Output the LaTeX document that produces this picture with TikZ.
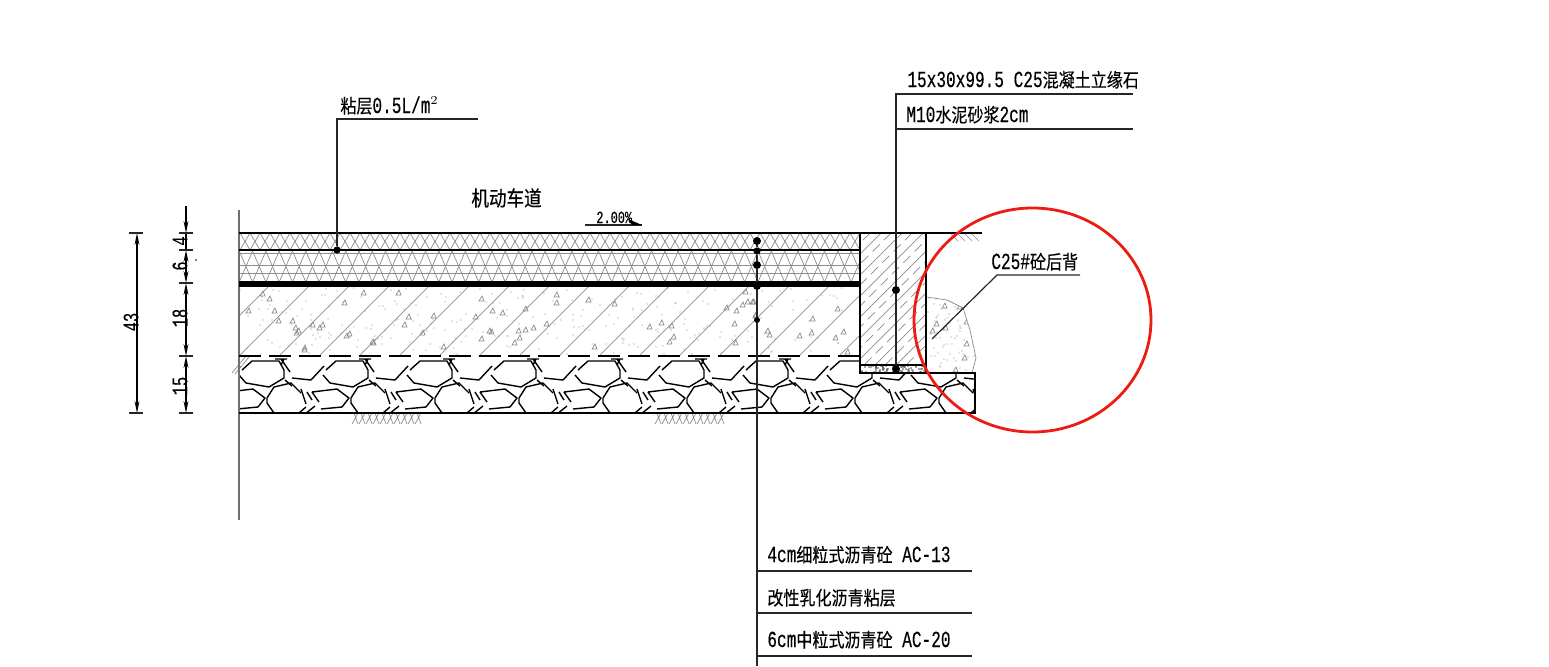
\documentclass[tikz,border=0pt]{standalone}
\usepackage{fontspec}
\setmainfont{Liberation Mono}[FakeStretch=0.7,FakeBold=0.3]
\newfontfamily\cjk[Scale=0.83,FakeStretch=0.84,FakeBold=0.3]{Noto Sans CJK SC}
\usepackage{tikz}
\usetikzlibrary{arrows.meta}
\definecolor{hatchgray}{gray}{0.55}
\definecolor{markred}{RGB}{236,28,20}
\tikzset{
  thinline/.style={line width=0.35pt,hatchgray},
  heavy/.style={line width=1pt,black},
  leader/.style={line width=0.6pt,black!85},
  dimline/.style={line width=0.6pt,black,{Stealth[length=6pt,width=2.4pt]}-{Stealth[length=6pt,width=2.4pt]}},
  label/.style={anchor=base west,inner sep=0pt,font=\fontsize{11.5pt}{13pt}\selectfont},
  dimtext/.style={rotate=90,inner sep=0pt,font=\fontsize{11pt}{13pt}\selectfont},
  blob/.style={circle,fill=black,inner sep=0pt,minimum size=4pt}
}
\def\STONE#1{\begin{scope}[shift={(#1,356)},line width=0.7pt,line join=round]
  \draw (3,14) -- (13,5) -- (40,5) -- (45,14) -- (45,22) -- (30,31) -- (7,27) -- (0,19);
  \draw (42,3) -- (51,16) (36,3) -- (48,3) (45,3) -- (42,9) (53,22) -- (72,24) -- (85,10);
  \draw (46,24) -- (53,30);
  \draw (28,42) -- (35,31) -- (52,27) -- (62,37) (28,42) -- (28,47) -- (35,57) -- (60,57) -- (67,51);
  \draw (62,33) -- (67,48) (68,36) -- (73,44);
  \draw (73,36) -- (98,33) -- (110,42) -- (103,51) -- (82,53) (73,36) -- (80,46) (66,58) -- (76,50);
\end{scope}}
\def\TRI#1#2{\draw[thinline] (#1,#2) -- ++(5,0) -- ++(-2,-5) -- cycle;}
\def\GROUND#1{\foreach \g in {0,7,...,63} \draw[thinline] (#1+\g,424) -- ++(6,-11) (#1+\g+6,424) -- ++(-4,-11);}
\begin{document}
\begin{tikzpicture}[x=0.5pt,y=-0.5pt]
  \useasboundingbox (0,0) rectangle (1549,666);
  \pgfmathsetseed{12}
  % surface courses
  \begin{scope}
    \clip (239,233) rectangle (860,250);
    \foreach \x in {230,240,...,860} {\draw[thinline] (\x,233) -- ++(10,17); \draw[thinline] (\x+10,233) -- ++(-10,17);}
  \end{scope}
  \begin{scope}
    \clip (239,250) rectangle (860,282);
    \foreach \x in {226,239.3,...,860} {\draw[thinline] (\x,251) -- ++(13.3,31); \draw[thinline] (\x+13.3,251) -- ++(-13.3,31);}
    \foreach \y in {253,265,273} \draw[thinline] (239,\y) -- (860,\y);
  \end{scope}
  % base course
  \begin{scope}
    \clip (239,286) rectangle (860,356);
    \foreach \x in {199,239,...,839} \draw[thinline] (\x,356) -- ++(70,-70);
    \foreach \n in {1,...,70} {\pgfmathrandominteger{\rx}{240}{855}\pgfmathrandominteger{\ry}{294}{354}\TRI{\rx}{\ry}}
    \foreach \n in {1,...,260} {\pgfmathrandominteger{\rx}{240}{858}\pgfmathrandominteger{\ry}{288}{354}\fill[hatchgray] (\rx,\ry) circle (0.3pt);}
  \end{scope}
  % curb, mortar, back fill
  \begin{scope}
    \clip (860,233) rectangle (926,365);
    \foreach \x in {860,881,...,1028} \draw[thinline] (\x,233) -- ++(-150,150);
    \foreach \x in {870,891,...,1038} \draw[thinline,dash pattern=on 5pt off 3pt] (\x,233) -- ++(-150,150);
  \end{scope}
  \begin{scope}
    \clip (860,365) rectangle (926,373);
    \foreach \n in {1,...,70} {\pgfmathrandominteger{\rx}{861}{925}\pgfmathrandominteger{\ry}{366}{372}\fill[black!70] (\rx,\ry) circle (0.4pt);}
  \end{scope}
  \draw[thinline] (927,297) -- (947,300) -- (963,308) -- (970,330) -- (976,358) -- (972,373);
  \begin{scope}
    \clip (927,297) -- (947,300) -- (963,308) -- (970,330) -- (976,358) -- (972,373) -- (927,373) -- cycle;
    \foreach \n in {1,...,10} {\pgfmathrandominteger{\rx}{928}{970}\pgfmathrandominteger{\ry}{305}{372}\TRI{\rx}{\ry}}
    \foreach \n in {1,...,70} {\pgfmathrandominteger{\rx}{928}{975}\pgfmathrandominteger{\ry}{298}{372}\fill[hatchgray] (\rx,\ry) circle (0.35pt);}
  \end{scope}
  % stones
  \begin{scope}
    \clip (239,353) -- (860,353) -- (860,373) -- (975,373) -- (975,413) -- (239,413) -- cycle;
    \foreach \k in {0,...,9} {\STONE{239-84+84*\k}}
  \end{scope}
  \draw[thinline] (232,373) -- (246,356) (235,374) -- (249,357);
  \GROUND{352}
  \GROUND{655}
  \foreach \g in {0,7,...,21} \draw[thinline] (950+\g,233) -- ++(8,8);
  % outlines
  \draw[line width=0.6pt,hatchgray!80!black] (239,210) -- (239,520);
  \draw[line width=1pt,dash pattern=on 11pt off 3.97pt] (239,356) -- (860,356);
  \draw[heavy] (239,233) -- (982,233);
  \draw[heavy] (239,250) -- (860,250);
  \draw[line width=2.6pt] (239,284) -- (860,284);
  \draw[line width=1.1pt] (860,233) -- (860,373) -- (975,373) -- (975,413) -- (239,413);
  \draw[heavy] (860,365) -- (926,365) (926,233) -- (926,373);
  % leaders
  \node[blob,minimum size=3.6pt] (tackdot) at (337,250) {};
  \coordinate (tackknee) at (337,119);
  \coordinate (tackend) at (478,119);
  \draw[leader] (tackdot) -- (tackknee) -- (tackend);
  \node[label] (tacktext) at (340,113) {{\cjk 粘层}0.5L/m$^{\scriptscriptstyle 2}$};
  \node[blob] (mortardot) at (896,369) {};
  \node[blob] (curbdot) at (896,290) {};
  \coordinate (curbknee) at (896,94);
  \coordinate (curbend) at (1133,94);
  \coordinate (mortarknee) at (896,129);
  \coordinate (mortarend) at (1133,129);
  \draw[leader,line width=0.7pt] (mortardot) -- (curbdot) -- (curbknee) -- (curbend);
  \draw[leader] (mortarknee) -- (mortarend);
  \node[label] (curbtext) at (907,87) {15x30x99.5 C25{\cjk 混凝土立缘石}};
  \node[label] (mortartext) at (906,122) {M10{\cjk 水泥砂浆}2cm};
  \node[blob] (dotA) at (757,241) {};
  \node[blob,minimum size=3.6pt] (dotB) at (757,251) {};
  \node[blob] (dotC) at (757,265) {};
  \node[blob] (dotD) at (757,286) {};
  \node[blob,minimum size=3pt] (dotE) at (757,320) {};
  \coordinate (layerend) at (757,666);
  \draw[leader,line width=0.7pt] (dotA) -- (dotB) -- (dotC) -- (dotD) -- (dotE) -- (layerend);
  \coordinate (layerA) at (757,571); \coordinate (layerAend) at (972,571);
  \coordinate (layerB) at (757,613); \coordinate (layerBend) at (972,613);
  \coordinate (layerC) at (757,656); \coordinate (layerCend) at (972,656);
  \draw[leader] (layerA) -- (layerAend) (layerB) -- (layerBend) (layerC) -- (layerCend);
  \node[label] (layerAtext) at (767,562) {4cm{\cjk 细粒式沥青砼} AC-13};
  \node[label] (layerBtext) at (767,605) {{\cjk 改性乳化沥青粘层}};
  \node[label] (layerCtext) at (767,647) {6cm{\cjk 中粒式沥青砼} AC-20};
  \coordinate (backfoot) at (932,339);
  \coordinate (backknee) at (997,275);
  \coordinate (backend) at (1080,275);
  \draw[leader] (backfoot) -- (backknee) -- (backend);
  \node[label] (backtext) at (991,269) {C25\#{\cjk 砼后背}};
  % road label and slope
  \node[anchor=base west,inner sep=0pt,font=\fontsize{12.6pt}{14pt}\selectfont\cjk] (roadtext) at (471,206) {机动车道};
  \node[anchor=base west,inner sep=0pt,font=\fontsize{8.5pt}{10pt}\selectfont] (slopetext) at (596,223) {2.00\%};
  \coordinate (slopeA) at (585,225);
  \coordinate (slopeB) at (642,225);
  \coordinate (slopeC) at (628,219);
  \draw[leader] (slopeA) -- (slopeB);
  \fill (slopeB) -- (slopeC) -- (632,225) -- cycle;
  % dimensions
  \coordinate (totaltop) at (137,233);
  \coordinate (totalbot) at (137,413);
  \draw[dimline] (totaltop) -- (totalbot);
  \draw[leader] (129,233) -- (143,233) (129,413) -- (143,413);
  \node[dimtext] (totaltext) at (131,322) {43};
  \coordinate (chainfree) at (186,206);
  \coordinate (chainA) at (186,233);
  \coordinate (chainB) at (186,250);
  \coordinate (chainC) at (186,283);
  \coordinate (chainD) at (186,356);
  \coordinate (chainE) at (186,413);
  \draw[line width=0.6pt,-{Stealth[length=6pt,width=2.4pt]}] (chainfree) -- (chainA);
  \draw[line width=0.6pt] (chainA) -- (chainB);
  \draw[dimline] (chainB) -- (chainC);
  \draw[dimline] (chainC) -- (chainD);
  \draw[dimline] (chainD) -- (chainE);
  \draw[leader] (179,233) -- (193,233) (179,250) -- (193,250) (179,283) -- (193,283) (179,356) -- (193,356) (179,413) -- (193,413);
  \node[dimtext] (fourtext) at (180,241) {4};
  \node[dimtext] (sixtext) at (180,266) {6};
  \node[dimtext] (eighttext) at (180,318) {18};
  \node[dimtext] (fivetext) at (180,386) {15};
  \fill (196,260) circle (0.4pt);
  % mark
  \draw[markred,line width=1.4pt] (1032.5,320) ellipse (118.5 and 112);
\end{tikzpicture}
\end{document}
